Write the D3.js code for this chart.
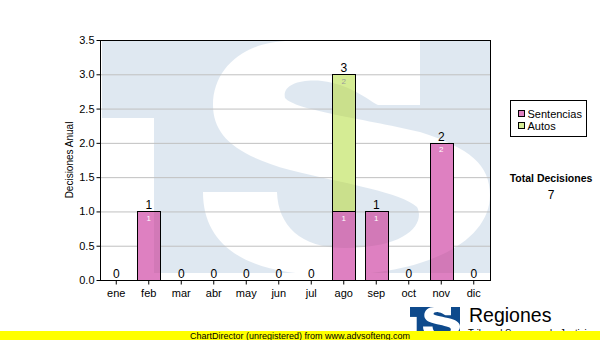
<!DOCTYPE html>
<html>
<head>
<meta charset="utf-8">
<script src="https://cdn.jsdelivr.net/npm/d3@7"></script>
<style>
  html, body { margin: 0; padding: 0; background: #fff; }
  svg { display: block; }
  text { font-family: "Liberation Sans", Arial, sans-serif; }
</style>
</head>
<body>
<svg id="chart" width="600" height="340"></svg>
<script>
// ---- data ----
const months = ["ene","feb","mar","abr","may","jun","jul","ago","sep","oct","nov","dic"];
const sentencias = [0,1,0,0,0,0,0,1,1,0,2,0];
const autos      = [0,0,0,0,0,0,0,2,0,0,0,0];
const seriesNames = ["Sentencias","Autos"];
const yTicks = [0,0.5,1,1.5,2,2.5,3,3.5];
const yTitle = "Decisiones Anual";
const totalTitle = "Total Decisiones";
const logoText = "Regiones";
const logoSub = "Tribunal Supremo de Justicia";
const bannerText = "ChartDirector (unregistered) from www.advsofteng.com";

// ---- layout ----
const W = 600, H = 340;
const plot = {left: 100, right: 490, top: 40, bottom: 280};
const colors = {Sentencias: "#de80c1", Autos: "#d5ec94"};
const innerColors = {Sentencias: "#ffffff", Autos: "#9a9a9a"};

const rows = months.map((m, i) => ({month: m, Sentencias: sentencias[i], Autos: autos[i]}));
const stacked = d3.stack().keys(seriesNames)(rows);

const x = d3.scaleBand().domain(months).range([plot.left, plot.right]).paddingInner(0.3).paddingOuter(0.15);
const y = d3.scaleLinear().domain([0, 3.5]).range([plot.bottom, plot.top]);

const svg = d3.select("#chart");
const defs = svg.append("defs");

// watermark shape (TS logo)
const sPath = "M420,41 L290,41 C245,41 213,68 213,105 C213,135 235,155 290,170 C350,185 400,192 417,207 " +
  "C425,222 410,248 345,248 C300,248 278,225 277,192 L203,192 C203,245 245,275 330,275 " +
  "C430,275 490,240 490,195 C490,165 470,148 420,132 C360,118 295,110 285,98 " +
  "C282,85 300,79 322,81 C350,84 368,100 378,105 L420,105 Z";

const mask = defs.append("mask").attr("id", "wmMask").attr("maskUnits", "userSpaceOnUse")
  .attr("x", 0).attr("y", 0).attr("width", W).attr("height", H);
mask.append("rect").attr("x", 102).attr("y", 41).attr("width", 388).attr("height", 232).attr("fill", "#fff");
mask.append("rect").attr("x", 100).attr("y", 118).attr("width", 54).attr("height", 162).attr("fill", "#000");
mask.append("path").attr("d", sPath).attr("fill", "#000");

// background
svg.append("rect").attr("width", W).attr("height", H).attr("fill", "#fff");
svg.append("rect").attr("x", plot.left).attr("y", plot.top)
  .attr("width", plot.right - plot.left).attr("height", plot.bottom - plot.top)
  .attr("fill", "#dfe8f1").attr("mask", "url(#wmMask)");

// grid
svg.append("g").selectAll("line").data(yTicks.filter(d => d > 0 && d < 3.5)).join("line")
  .attr("x1", plot.left).attr("x2", plot.right)
  .attr("y1", d => y(d) + 0.5).attr("y2", d => y(d) + 0.5)
  .attr("stroke", "#c0c0c0").attr("stroke-width", 1);

// bars
const segs = [];
stacked.forEach(s => s.forEach((d, i) => {
  if (d[1] - d[0] > 0) segs.push({key: s.key, month: months[i], y0: d[0], y1: d[1], v: d[1] - d[0]});
}));

const clip = defs.append("clipPath").attr("id", "barClip");
clip.selectAll("rect").data(segs).join("rect")
  .attr("x", d => x(d.month)).attr("y", d => y(d.y1))
  .attr("width", x.bandwidth()).attr("height", d => y(d.y0) - y(d.y1));

svg.append("g").selectAll("rect").data(segs).join("rect")
  .attr("x", d => Math.round(x(d.month)) + 0.5).attr("y", d => Math.round(y(d.y1)) + 0.5)
  .attr("width", Math.round(x.bandwidth())).attr("height", d => Math.round(y(d.y0)) - Math.round(y(d.y1)))
  .attr("fill", d => colors[d.key]).attr("stroke", "#000").attr("stroke-width", 1);

// watermark tint over bars
svg.append("g").attr("clip-path", "url(#barClip)")
  .append("rect").attr("x", plot.left).attr("y", plot.top)
  .attr("width", plot.right - plot.left).attr("height", plot.bottom - plot.top)
  .attr("fill", "#000").attr("opacity", 0.05).attr("mask", "url(#wmMask)");

// re-stroke bar outlines
svg.append("g").selectAll("rect").data(segs).join("rect")
  .attr("x", d => Math.round(x(d.month)) + 0.5).attr("y", d => Math.round(y(d.y1)) + 0.5)
  .attr("width", Math.round(x.bandwidth())).attr("height", d => Math.round(y(d.y0)) - Math.round(y(d.y1)))
  .attr("fill", "none").attr("stroke", "#000").attr("stroke-width", 1);

// inner labels
svg.append("g").selectAll("text").data(segs).join("text")
  .attr("x", d => x(d.month) + x.bandwidth() / 2)
  .attr("y", d => y(d.y1) + 9.5)
  .attr("text-anchor", "middle").attr("font-size", 8)
  .attr("fill", d => innerColors[d.key])
  .text(d => d.v);

// total labels
svg.append("g").selectAll("text").data(rows).join("text")
  .attr("x", d => x(d.month) + x.bandwidth() / 2)
  .attr("y", d => y(d.Sentencias + d.Autos) - 2)
  .attr("text-anchor", "middle").attr("font-size", 12).attr("fill", "#000")
  .text(d => d.Sentencias + d.Autos);

// plot border
svg.append("rect").attr("x", plot.left + 0.5).attr("y", plot.top + 0.5)
  .attr("width", plot.right - plot.left).attr("height", plot.bottom - plot.top)
  .attr("fill", "none").attr("stroke", "#000");

// y axis
const yAxis = svg.append("g").attr("transform", `translate(${plot.left + 0.5},0)`)
  .call(d3.axisLeft(y).tickValues(yTicks).tickFormat(d3.format(".1f")).tickSize(4).tickPadding(2));
yAxis.select(".domain").remove();
yAxis.selectAll(".tick line").attr("stroke", "#000");
yAxis.selectAll(".tick text").attr("font-size", 11).attr("font-family", "Liberation Sans, Arial").attr("fill", "#000");

// x axis
const xAxis = svg.append("g").attr("transform", `translate(0,${plot.bottom + 0.5})`)
  .call(d3.axisBottom(x).tickSize(4).tickPadding(5));
xAxis.select(".domain").remove();
xAxis.selectAll(".tick line").attr("stroke", "#000");
xAxis.selectAll(".tick text").attr("font-size", 11).attr("font-family", "Liberation Sans, Arial").attr("fill", "#000");

// y title
svg.append("text").attr("transform", `translate(73,${(plot.top + plot.bottom) / 2}) rotate(-90)`)
  .attr("text-anchor", "middle").attr("font-size", 10).text(yTitle);

// legend
const lg = svg.append("g");
lg.append("rect").attr("x", 510.5).attr("y", 100.5).attr("width", 76).attr("height", 36)
  .attr("fill", "#fff").attr("stroke", "#000");
seriesNames.forEach((k, i) => {
  lg.append("rect").attr("x", 518.5).attr("y", 110.5 + i * 12).attr("width", 6).attr("height", 6)
    .attr("fill", colors[k]).attr("stroke", "#000");
  lg.append("text").attr("x", 527.5).attr("y", 117.5 + i * 12).attr("font-size", 11).text(k);
});

// total
const total = d3.sum(sentencias) + d3.sum(autos);
svg.append("text").attr("x", 551).attr("y", 182).attr("text-anchor", "middle")
  .attr("font-size", 10.5).attr("font-weight", "bold").text(totalTitle);
svg.append("text").attr("x", 551).attr("y", 199).attr("text-anchor", "middle")
  .attr("font-size", 12).text(total);

// bottom logo
const s = 50 / 388;
const logo = svg.append("g").attr("transform", `translate(${410 - 102 * s},${307 - 41 * s}) scale(${s})`);
logo.append("rect").attr("x", 102).attr("y", 41).attr("width", 388).attr("height", 232).attr("fill", "#0e4a8c");
logo.append("rect").attr("x", 102).attr("y", 118).attr("width", 52).attr("height", 155).attr("fill", "#fff");
logo.append("path").attr("d", sPath).attr("fill", "#fff");
svg.append("text").attr("x", 469).attr("y", 322).attr("font-size", 19.5).text(logoText);
svg.append("text").attr("x", 468).attr("y", 337).attr("font-size", 10)
  .attr("textLength", 124).attr("lengthAdjust", "spacingAndGlyphs").text(logoSub);

// banner
svg.append("rect").attr("x", 0).attr("y", 331).attr("width", W).attr("height", 9).attr("fill", "#ffff00");
svg.append("text").attr("x", 300).attr("y", 339).attr("text-anchor", "middle")
  .attr("font-size", 9.5).attr("textLength", 220).attr("lengthAdjust", "spacingAndGlyphs").text(bannerText);
</script>
</body>
</html>
